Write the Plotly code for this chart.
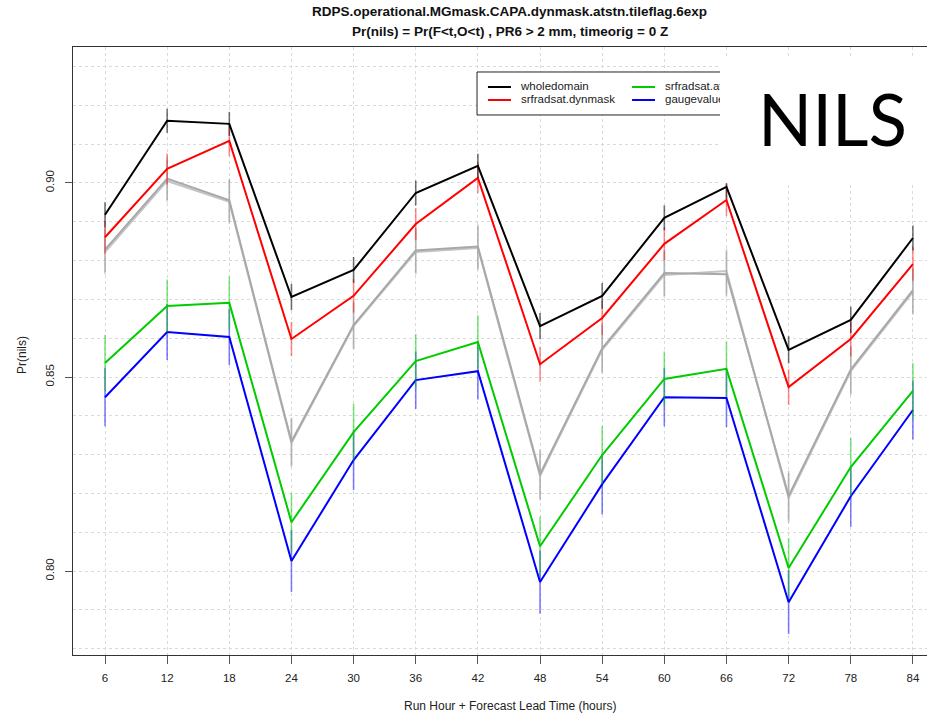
import plotly.graph_objects as go

# ---------------- data ----------------
lead_hours = [6, 12, 18, 24, 30, 36, 42, 48, 54, 60, 66, 72, 78, 84]
x_tick_labels = ["6", "12", "18", "24", "30", "36", "42", "48", "54", "60", "66", "72", "78", "84"]
y_tick_values = [0.80, 0.85, 0.90]
y_tick_labels = ["0.80", "0.85", "0.90"]

series_names = ["wholedomain", "srfradsat.dynmask", "srfradsat.atstn", "gaugevalue",
                "gaugevalue.dynmask", "gaugevalue.atstn"]

wholedomain = [0.8918, 0.9160, 0.9152, 0.8706, 0.8776, 0.8974, 0.9044,
               0.8631, 0.8709, 0.8910, 0.8990, 0.8570, 0.8647, 0.8858]
srfradsat_dynmask = [0.8860, 0.9036, 0.9108, 0.8598, 0.8709, 0.8894, 0.9013,
                     0.8533, 0.8652, 0.8843, 0.8956, 0.8474, 0.8598, 0.8791]
srfradsat_atstn = [0.8536, 0.8683, 0.8691, 0.8126, 0.8358, 0.8541, 0.8590,
                   0.8064, 0.8299, 0.8495, 0.8521, 0.8008, 0.8268, 0.8464]
gaugevalue = [0.8448, 0.8616, 0.8603, 0.8026, 0.8286, 0.8492, 0.8515,
              0.7972, 0.8224, 0.8448, 0.8446, 0.7920, 0.8193, 0.8415]
gray_a = [0.8822, 0.9005, 0.8951, 0.8330, 0.8631, 0.8822, 0.8832,
          0.8245, 0.8570, 0.8763, 0.8773, 0.8188, 0.8515, 0.8719]
gray_b = [0.8828, 0.9011, 0.8955, 0.8334, 0.8634, 0.8826, 0.8836,
          0.8250, 0.8574, 0.8768, 0.8765, 0.8194, 0.8519, 0.8724]

err_whole = [0.0032, 0.0031, 0.0031, 0.0034, 0.0033, 0.0032, 0.0031,
             0.0034, 0.0033, 0.0032, 0.0031, 0.0035, 0.0034, 0.0032]
err_dyn = [0.0042, 0.0040, 0.0039, 0.0044, 0.0043, 0.0041, 0.0040,
           0.0045, 0.0044, 0.0042, 0.0041, 0.0046, 0.0045, 0.0043]
err_atstn = [0.0072, 0.0068, 0.0068, 0.0075, 0.0073, 0.0070, 0.0069,
             0.0076, 0.0074, 0.0071, 0.0070, 0.0077, 0.0075, 0.0072]
err_gauge = [0.0075, 0.0072, 0.0072, 0.0080, 0.0077, 0.0074, 0.0073,
             0.0081, 0.0078, 0.0075, 0.0075, 0.0082, 0.0079, 0.0076]
err_gray_a = [0.0058, 0.0055, 0.0056, 0.0062, 0.0060, 0.0058, 0.0057,
              0.0063, 0.0061, 0.0059, 0.0058, 0.0064, 0.0062, 0.0059]
err_gray_b = [0.0058, 0.0055, 0.0056, 0.0062, 0.0060, 0.0058, 0.0057,
              0.0063, 0.0061, 0.0059, 0.0058, 0.0064, 0.0062, 0.0059]

values = [wholedomain, srfradsat_dynmask, srfradsat_atstn, gaugevalue, gray_a, gray_b]
errors = [err_whole, err_dyn, err_atstn, err_gauge, err_gray_a, err_gray_b]

# ---------------- styles ----------------
line_colors = ["#000000", "#FF0000", "#00CC00", "#0000FF", "#C4C4C4", "#A8A8A8"]
err_colors = ["rgba(0,0,0,0.55)", "rgba(255,0,0,0.45)", "rgba(0,204,0,0.5)",
              "rgba(0,0,255,0.5)", "rgba(170,170,170,0.5)", "rgba(150,150,150,0.5)"]
draw_order = [4, 5, 3, 2, 1, 0]
n_visible_legend = 4  # entries not hidden behind the NILS patch

FONT = "Liberation Sans, Arial, sans-serif"

fig = go.Figure()

for i in draw_order:
    fig.add_trace(go.Scatter(
        x=lead_hours, y=values[i], mode="lines", name=series_names[i],
        line=dict(color=line_colors[i], width=2),
        error_y=dict(type="data", array=errors[i], visible=True,
                     color=err_colors[i], thickness=1.6, width=0),
        showlegend=False, hoverinfo="skip"))

# ---------------- manual legend (overlay axes in 0..1 units) ----------------
leg_x0, leg_x1, leg_y0, leg_y1 = 0.4731, 1.05, 0.8882, 0.9589
fig.add_trace(go.Scatter(
    x=[leg_x0, leg_x1, leg_x1, leg_x0, leg_x0],
    y=[leg_y0, leg_y0, leg_y1, leg_y1, leg_y0],
    mode="lines", fill="toself", fillcolor="white",
    line=dict(color="#222222", width=1), xaxis="x2", yaxis="y2",
    showlegend=False, hoverinfo="skip"))

col_line_x = [(0.4859, 0.5129), (0.6546, 0.6815)]
col_text_x = [0.5246, 0.6932]
row_y = [0.9342, 0.9128]
for k in range(n_visible_legend):
    c, r = divmod(k, 2)
    fig.add_trace(go.Scatter(
        x=list(col_line_x[c]), y=[row_y[r], row_y[r]], mode="lines",
        line=dict(color=line_colors[k], width=2), xaxis="x2", yaxis="y2",
        showlegend=False, hoverinfo="skip"))
    fig.add_trace(go.Scatter(
        x=[col_text_x[c]], y=[row_y[r]], mode="text", text=[series_names[k]],
        textposition="middle right", textfont=dict(family=FONT, size=11.5, color="#222222"),
        xaxis="x2", yaxis="y2", showlegend=False, hoverinfo="skip"))

# ---------------- white NILS patch ----------------
fig.add_shape(type="rect", xref="paper", yref="paper",
              x0=0.7576, x1=1.01, y0=0.7763, y1=0.9836,
              fillcolor="white", line=dict(width=0), layer="above")

grid_style = dict(gridcolor="#DADADA", griddash="dot", gridwidth=1)

fig.update_layout(
    width=927, height=713,
    margin=dict(l=73, r=0, t=47, b=58),
    paper_bgcolor="white", plot_bgcolor="white",
    font=dict(family=FONT, color="#222222"),
    xaxis=dict(range=[2.91, 85.36], tickmode="array", tickvals=lead_hours,
               ticktext=x_tick_labels, ticks="outside", ticklen=8, tickwidth=1,
               tickcolor="#555555", showline=True, linecolor="#333333", linewidth=1.3,
               mirror=True, zeroline=False, showgrid=True,
               tickfont=dict(size=11.5, color="#222222"), ticklabelstandoff=4,
               **grid_style),
    yaxis=dict(range=[0.7784, 0.935], tickmode="array", tickvals=y_tick_values,
               ticktext=y_tick_labels, ticks="outside", ticklen=7, tickwidth=1,
               tickcolor="#555555", showline=True, linecolor="#333333", linewidth=1.3,
               zeroline=False, showgrid=True, tickangle=-90,
               tickfont=dict(size=11.5, color="#222222"), ticklabelstandoff=6,
               minor=dict(dtick=0.01, tick0=0.0, showgrid=True, ticks="",
                          gridcolor="#DADADA", griddash="dot", gridwidth=1),
               **grid_style),
    xaxis2=dict(overlaying="x", range=[0, 1], visible=False, fixedrange=True),
    yaxis2=dict(overlaying="y", range=[0, 1], visible=False, fixedrange=True),
    showlegend=False,
)

# ---------------- titles ----------------
fig.add_annotation(text="<b>RDPS.operational.MGmask.CAPA.dynmask.atstn.tileflag.6exp</b>",
                   xref="paper", yref="paper", x=0.5117, y=1.0576, showarrow=False,
                   xanchor="center", yanchor="middle",
                   font=dict(family=FONT, size=13.5, color="#111111"))
fig.add_annotation(text="<b>Pr(nils) = Pr(F&lt;t,O&lt;t) , PR6 &gt; 2 mm, timeorig = 0 Z</b>",
                   xref="paper", yref="paper", x=0.5117, y=1.0263, showarrow=False,
                   xanchor="center", yanchor="middle",
                   font=dict(family=FONT, size=13.5, color="#111111"))
fig.add_annotation(text="Run Hour + Forecast Lead Time (hours)",
                   xref="paper", yref="paper", x=0.5117, y=-0.0839, showarrow=False,
                   xanchor="center", yanchor="middle",
                   font=dict(family=FONT, size=12, color="#222222"))
fig.add_annotation(text="Pr(nils)", textangle=-90,
                   xref="paper", yref="paper", x=-0.0597, y=0.4934, showarrow=False,
                   xanchor="center", yanchor="middle",
                   font=dict(family=FONT, size=12, color="#222222"))
fig.add_annotation(text="NILS", xref="paper", yref="paper", x=0.889, y=0.8816,
                   showarrow=False, xanchor="center", yanchor="middle",
                   font=dict(family="Lato, Open Sans, sans-serif", size=71, color="#000000"))

fig.write_html("out.html")
